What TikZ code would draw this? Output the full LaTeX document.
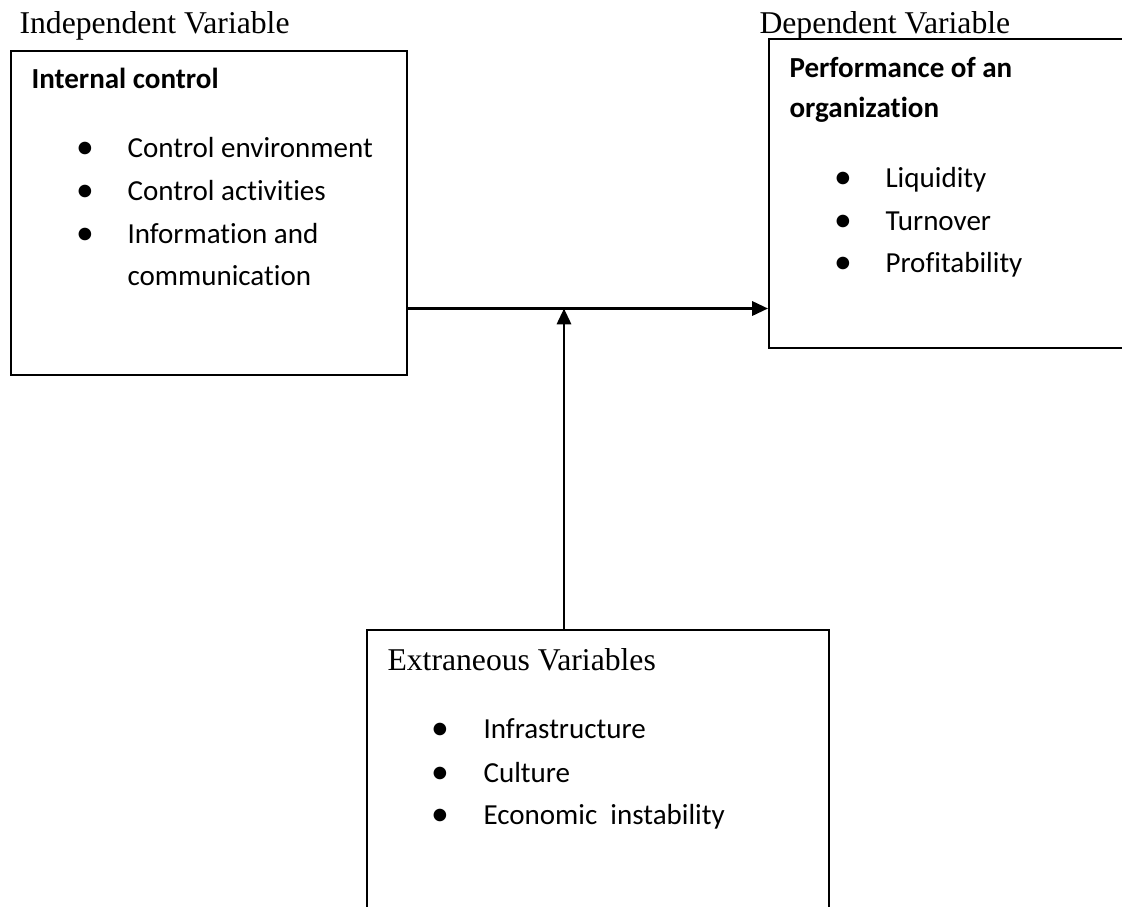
\documentclass[tikz,border=0pt]{standalone}
\usepackage{fontspec}
\setmainfont{Liberation Serif}
\newfontfamily\calibri[Ligatures=NoCommon]{Carlito}
\usetikzlibrary{positioning}
\usetikzlibrary{arrows.meta}

\tikzset{
  varbox/.style={draw, line width=0.75pt, inner sep=0pt, anchor=north west},
  vartitle/.style={anchor=base west, inner sep=0pt, font=\fontsize{12}{14}\selectfont},
  boxhead/.style={anchor=base west, inner sep=0pt, font=\calibri\bfseries\fontsize{11}{13}\selectfont},
  listitem/.style={anchor=base west, inner sep=0pt, font=\calibri\fontsize{11}{13}\selectfont},
  bulletmark/.style={anchor=base, inner sep=0pt, font=\calibri\fontsize{13.5}{14}\selectfont},
  link/.style={line width=0.95pt, -{Triangle[length=6pt,width=5.4pt]}}
}

\begin{document}
\begin{tikzpicture}[x=0.3788pt, y=-0.3788pt]
\useasboundingbox (0,0) rectangle (1122,907);
\clip (0,0) rectangle (1122,907);

% variable boxes
\node[varbox, minimum width=396*0.3788pt, minimum height=324*0.3788pt] (ctrl) at (10,50) {};
\node[varbox, minimum width=390*0.3788pt, minimum height=309*0.3788pt] (perf) at (768,38) {};
\node[varbox, minimum width=462*0.3788pt, minimum height=340*0.3788pt] (extr) at (366,629) {};

\node[vartitle] (indep) at (19,33) {Independent Variable};
\node[vartitle] (dep) at (759,33) {Dependent Variable};

% internal control
\node[boxhead] (ctrlhead) at (31,88) {Internal control};
\node[bulletmark] (b1) at (85,158) {\textbullet};
\node[listitem] (c1) at (127,157) {Control environment};
\node[bulletmark] (b2) at (85,201) {\textbullet};
\node[listitem] (c2) at (127,200) {Control activities};
\node[bulletmark] (b3) at (85,244) {\textbullet};
\node[listitem] (c3) at (127,243) {Information and};
\node[listitem] (c4) at (127,285) {communication};

% performance
\node[boxhead] (perfhead) at (789,77) {Performance of an};
\node[boxhead] (perfhead2) at (789,117) {organization};
\node[bulletmark] (d1) at (843,188) {\textbullet};
\node[listitem] (p1) at (885,187) {Liquidity};
\node[bulletmark] (d2) at (843,231) {\textbullet};
\node[listitem] (p2) at (885,230) {Turnover};
\node[bulletmark] (d3) at (843,273) {\textbullet};
\node[listitem] (p3) at (885,272) {Profitability};

% extraneous
\node[vartitle] (extrhead) at (387,670) {Extraneous Variables};
\node[bulletmark] (e1) at (440,739) {\textbullet};
\node[listitem] (x1) at (483,738) {Infrastructure};
\node[bulletmark] (e2) at (440,783) {\textbullet};
\node[listitem] (x2) at (483,782) {Culture};
\node[bulletmark] (e3) at (440,825) {\textbullet};
\node[listitem] (x3) at (483,824) {Economic\ \ instability};

% connectors
\coordinate (meet) at (564,308.5);
\draw[link] (ctrl.east |- meet) -- (perf.west |- meet);
\draw[link] (meet |- extr.north) -- (meet);
\end{tikzpicture}
\end{document}
